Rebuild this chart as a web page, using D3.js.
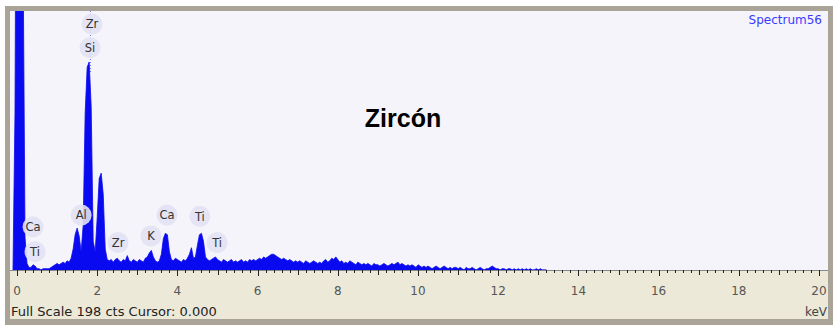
<!DOCTYPE html>
<html>
<head>
<meta charset="utf-8">
<script src="https://cdn.jsdelivr.net/npm/d3@7"></script>
<style>
body { margin: 0; background: #fff; }
svg { display: block; font-family: "DejaVu Sans", Verdana, sans-serif; }
</style>
</head>
<body>
<svg width="833" height="325"></svg>
<script>
// channel calibration (keV)
var startKeV = -0.10, stepKeV = 0.05;
var fullScale = 198;

// counts per channel
var counts = [
  0, 120, 500, 500, 500, 250, 25, 5, 2, 2,
  4, 3, 1, 1, 0, 1, 1, 1, 1, 2,
  3, 4, 5, 4, 5, 6, 5, 7, 6, 9,
  16, 27, 32, 26, 14, 34, 120, 155, 159, 125,
  22, 14, 40, 70, 74, 58, 16, 8, 7, 8,
  6, 8, 9, 7, 6, 8, 7, 11, 7, 6,
  8, 7, 6, 8, 7, 6, 9, 10, 13, 15,
  10, 7, 6, 7, 12, 24, 28, 27, 14, 8,
  7, 9, 8, 7, 6, 8, 7, 9, 12, 17,
  9, 10, 19, 27, 28, 22, 10, 8, 7, 8,
  9, 10, 8, 7, 6, 8, 7, 6, 7, 8,
  6, 7, 6, 7, 8, 6, 7, 6, 8, 7,
  8, 7, 8, 9, 8, 10, 9, 10, 11, 12,
  12, 11, 10, 9, 8, 9, 8, 7, 8, 7,
  6, 7, 6, 7, 6, 5, 7, 6, 5, 6,
  7, 6, 5, 6, 5, 7, 8, 6, 7, 9,
  8, 10, 8, 6, 7, 5, 6, 5, 7, 6,
  5, 4, 6, 5, 4, 5, 4, 5, 4, 3,
  5, 4, 4, 3, 4, 5, 4, 3, 4, 5,
  4, 5, 6, 4, 5, 4, 3, 4, 3, 4,
  3, 2, 4, 3, 2, 3, 2, 3, 2, 1,
  2, 3, 2, 1, 2, 3, 2, 1, 2, 1,
  2, 2, 1, 2, 1, 0, 2, 1, 1, 2,
  1, 0, 1, 2, 1, 0, 1, 1, 2, 3,
  2, 1, 1, 0, 1, 1, 0, 1, 1, 0,
  1, 0, 1, 0, 1, 0, 1, 0, 1, 0,
  0, 1, 0, 1, 0, 0, 0
];

// element markers: name, keV, height in counts
var labelNames = ["Zr", "Si", "Ca", "Ti", "Al", "Zr", "K", "Ca", "Ti", "Ti"];
var labelKeV   = [1.87, 1.82, 0.40, 0.45, 1.60, 2.52, 3.34, 3.74, 4.56, 4.99];
var labelCts   = [188, 170, 33, 14, 42, 21, 26, 42, 41, 21];

var tickValues = [0, 2, 4, 6, 8, 10, 12, 14, 16, 18, 20];

var svg = d3.select("svg");
var plotLeft = 10, plotRight = 828, plotTop = 11, plotBase = 270;

// frame
svg.append("rect").attr("x", 5).attr("y", 6).attr("width", 828).attr("height", 319).attr("fill", "#aaa498");
svg.append("rect").attr("x", plotLeft).attr("y", plotTop).attr("width", plotRight - plotLeft).attr("height", plotBase - plotTop).attr("fill", "#f4f4fa");
svg.append("rect").attr("x", plotLeft).attr("y", plotBase).attr("width", plotRight - plotLeft).attr("height", 49).attr("fill", "#ece9d8");

var x = d3.scaleLinear().domain([0, 20]).range([17, 819]);
var y = d3.scaleLinear().domain([0, fullScale]).range([plotBase, plotTop]);

svg.append("clipPath").attr("id", "clip")
  .append("rect").attr("x", plotLeft).attr("y", plotTop).attr("width", plotRight - plotLeft).attr("height", plotBase - plotTop);

var area = d3.area()
  .x(function(d, i) { return x(startKeV + i * stepKeV); })
  .y0(y(0))
  .y1(function(d) { return y(d); });

var g = svg.append("g").attr("clip-path", "url(#clip)");

// faint marker line above Si peak
g.append("line")
  .attr("x1", x(labelKeV[1]) + 0.5).attr("x2", x(labelKeV[1]) + 0.5)
  .attr("y1", plotTop).attr("y2", y(150))
  .attr("stroke", "#7070ff").attr("stroke-width", 1).attr("stroke-dasharray", "1,2");

g.append("path")
  .datum(counts)
  .attr("fill", "#0a0af0")
  .attr("stroke", "#0a0af0")
  .attr("stroke-width", 0.8)
  .attr("d", area);

// axis
svg.append("line").attr("x1", plotLeft).attr("x2", plotRight).attr("y1", plotBase + 0.5).attr("y2", plotBase + 0.5)
  .attr("stroke", "#888").attr("stroke-width", 1);

var minor = d3.range(0, 101).map(function(i) { return i * 0.2; });
svg.append("g").selectAll("line")
  .data(minor)
  .join("line")
  .attr("x1", function(d) { return Math.round(x(d)) + 0.5; })
  .attr("x2", function(d) { return Math.round(x(d)) + 0.5; })
  .attr("y1", plotBase)
  .attr("y2", function(d, i) { return i % 10 === 0 ? plotBase + 6 : (i % 5 === 0 ? plotBase + 5 : plotBase + 3); })
  .attr("stroke", "#222")
  .attr("stroke-width", 1);

svg.append("g").selectAll("text")
  .data(tickValues)
  .join("text")
  .attr("x", function(d) { return x(d); })
  .attr("y", 295)
  .attr("text-anchor", "middle")
  .attr("font-size", 12)
  .attr("fill", "#555")
  .text(function(d) { return d; });

svg.append("text").attr("x", 827).attr("y", 316).attr("text-anchor", "end")
  .attr("font-size", 12).attr("fill", "#444").text("keV");

svg.append("text").attr("x", 11).attr("y", 316)
  .attr("font-size", 13).attr("fill", "#222").text("Full Scale 198 cts Cursor: 0.000");

// element labels
var lab = svg.append("g").selectAll("g")
  .data(labelNames)
  .join("g")
  .attr("transform", function(d, i) { return "translate(" + x(labelKeV[i]) + "," + y(labelCts[i]) + ")"; });

lab.append("circle").attr("r", 10.5).attr("fill", "#e2e2f3").attr("opacity", 0.9);
lab.append("text")
  .attr("text-anchor", "middle")
  .attr("dy", "0.36em")
  .attr("font-size", 11.5)
  .attr("fill", "#333")
  .text(function(d) { return d; });

svg.append("text").attr("x", 822).attr("y", 24).attr("text-anchor", "end")
  .attr("font-size", 12).attr("fill", "#3a3aff").text("Spectrum56");

svg.append("text").attr("x", 403).attr("y", 127).attr("text-anchor", "middle")
  .attr("font-family", "'Liberation Sans', Arial, sans-serif")
  .attr("font-size", 25).attr("font-weight", "bold").attr("fill", "#000").text("Zircón");
</script>
</body>
</html>
